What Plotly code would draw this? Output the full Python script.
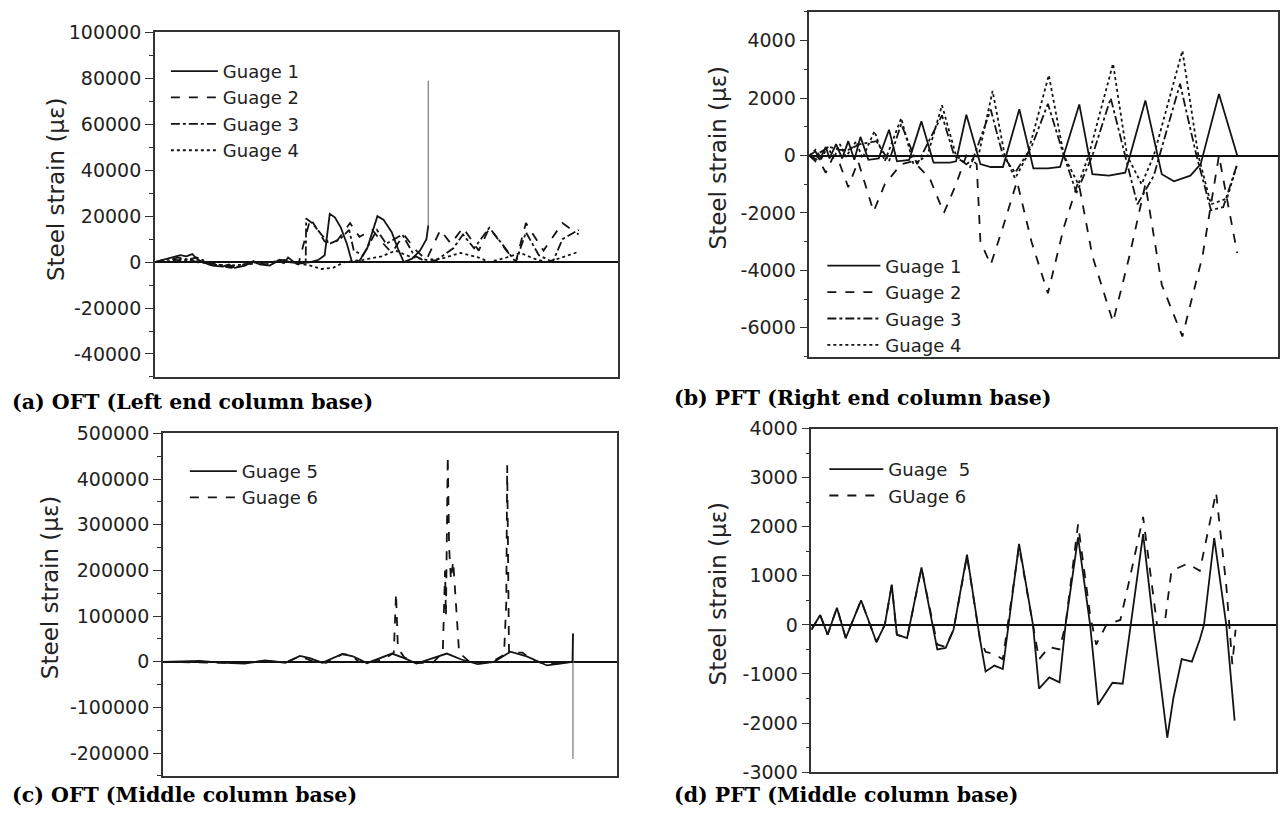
import plotly.graph_objects as go

W, H = 1280, 823

# ---------------- (a) OFT, left end column base ----------------
a_g1_t = [0, 1.9, 3.7, 5.5, 6.8, 8.1, 9.0, 10.3, 12.5, 14.7, 16.0, 17.3, 19.5, 21.3, 22.6, 24.8,
          26.6, 27.9, 28.8, 30.1, 31.8, 33.6, 35.4, 36.7, 37.8, 38.9, 40.2, 41.5, 42.6, 44.2, 45.9,
          47.0, 48.1, 49.4, 51.2, 52.5, 53.8, 55.6, 57.3, 58.7, 59.1, 59.1]
a_g1_v = [0, 1000, 2000, 3000, 2500, 3500, 1500, 0, -1500, -2000, -1000, -2500, -1500, 500, -1000, -1500,
          500, -500, 2000, 0, -500, 0, 1000, 3000, 21000, 19500, 15000, 8000, 0, 500, 6000,
          13000, 20000, 18500, 13000, 6000, 0, 1500, 5000, 10000, 16000, 79000]

a_g2_t = [0, 2.5, 5.0, 7.5, 10.0, 13.0, 16.5, 19.0, 22.0, 25.0, 28.0, 31.0, 33.6, 36.7, 38.9, 42.2,
          44.2, 47.0, 49.4, 51.2, 53.8, 56.5, 58.7, 61.7, 64.0, 66.6, 70.0, 72.3, 76.0, 78.0, 80.2,
          84.0, 88.1, 91.6]
a_g2_v = [0, 500, 2000, 1000, -500, -1500, -2500, -1000, -500, 0, 1000, -1000, 19000, 9000, 8000, 17000,
          11000, 14000, 8000, 4000, 12000, 5000, 1000, 14000, 8000, 15000, 5000, 15000, 5000, 0, 17000,
          5000, 17000, 12000]

a_g3_t = [0, 3.0, 6.0, 9.0, 12.0, 15.0, 18.0, 21.0, 24.0, 27.0, 30.0, 32.6, 32.7, 34.0, 36.0, 37.8,
          40.0, 42.0, 43.0, 45.0, 48.0, 50.0, 53.5, 56.0, 58.7, 61.0, 64.5, 66.6, 69.0, 72.3, 75.0,
          78.0, 80.2, 83.0, 86.0, 88.1, 91.6]
a_g3_v = [0, 1500, 500, 2000, -500, -1500, -2000, 0, -1000, 1000, -500, 0, 19000, 17000, 12000, 8000,
          10000, 14000, 5000, 3000, 14000, 8000, 12000, 3000, 0, 1000, 6000, 12000, 6000, 15000, 8000,
          0, 13000, 3000, 0, 10000, 14000]

a_g4_t = [0, 3.0, 6.0, 9.0, 12.0, 16.0, 20.0, 24.0, 28.0, 31.0, 33.6, 36.0, 38.5, 41.0, 45.0, 49.0,
          52.0, 55.0, 58.7, 62.0, 66.0, 70.0, 72.3, 76.0, 79.0, 82.0, 84.6, 88.0, 91.6]
a_g4_v = [0, 500, 1500, 500, -1000, -1500, -1000, 0, 500, -500, -1500, -3000, -2500, 0, 1000, 2500,
          5000, 2500, 1000, 1500, 4000, 2000, 0, 2000, 4000, 1500, 0, 2000, 4500]

# ---------------- (b) PFT, right end column base ----------------
b_g1_t = [0, 1.3, 2.2, 3.5, 4.3, 5.7, 7.0, 8.3, 9.6, 10.9, 12.6, 14.8, 17.0, 18.7, 21.3, 23.9, 26.5,
          30.0, 31.3, 33.5, 36.5, 38.7, 41.3, 44.8, 47.8, 50.9, 53.5, 57.6, 60.4, 63.9, 67.4, 71.7,
          75.2, 77.8, 81.3, 83.5, 87.4, 91.3]
b_g1_v = [0, 150, -150, 300, -100, 400, -100, 500, -150, 650, -150, -100, 900, -200, -150, 1190, -250,
          -250, -200, 1420, -300, -400, -400, 1610, -450, -450, -400, 1780, -650, -700, -600, 1920,
          -650, -900, -700, -300, 2140, 0]

b_g2_t = [0, 2.2, 3.5, 5.2, 6.5, 8.3, 10.4, 11.7, 13.7, 16.1, 19.6, 22.2, 25.7, 28.7, 31.3, 33.5, 35.7,
          36.5, 38.7, 41.3, 44.3, 47.4, 50.9, 54.3, 57.4, 60.4, 64.8, 68.3, 71.7, 75.2, 79.6, 83.9,
          87.4, 89.1, 91.3]
b_g2_v = [0, -200, -600, 0, -300, -1100, -200, -900, -1950, -1000, -300, -200, -800, -2000, -1000, 0, -300,
          -3000, -3800, -2500, -900, -3000, -4800, -2500, -900, -3500, -5800, -3500, -1000, -4500, -6300, -3500,
          0, -1500, -3400]

b_g3_t = [0, 1.3, 2.2, 4.3, 6.5, 8.3, 10.9, 14.3, 17.0, 19.6, 23.0, 28.3, 30.9, 34.3, 38.7, 41.3, 43.9,
          47.4, 50.9, 54.3, 57.0, 60.4, 64.3, 67.4, 70.0, 73.5, 79.1, 82.6, 85.7, 88.3, 91.3]
b_g3_v = [0, -200, 100, 300, 200, 200, 400, 500, -200, 1100, -300, 1400, 0, -400, 1600, 0, -600,
          300, 1800, 0, -1300, 0, 2000, 0, -1700, -700, 2500, 0, -1900, -1800, -300]

b_g4_t = [0, 1.3, 2.6, 3.9, 5.2, 6.5, 7.8, 10.0, 11.3, 13.9, 16.1, 19.6, 22.2, 25.2, 28.3, 31.3, 33.5,
          36.1, 39.1, 41.7, 43.9, 46.5, 51.1, 54.3, 57.4, 59.6, 64.8, 67.8, 70.9, 73.5, 79.6, 83.0,
          85.7, 89.1, 91.3]
b_g4_v = [0, 200, -100, 300, -100, 400, -50, 500, -100, 850, -200, 1300, -300, 0, 1750, 0, -300,
          0, 2250, 0, -800, 0, 2800, 0, -1000, 0, 3200, 0, -1000, 0, 3650, 0,
          -1700, -1500, -300]

# ---------------- (c) OFT, middle column base ----------------
c_g5_t = [0, 8.1, 12.6, 18.0, 22.5, 27.0, 30.2, 32.4, 35.1, 39.6, 41.9, 45.0, 50.5, 53.2, 55.9, 62.6,
          65.8, 69.4, 73.0, 76.6, 80.2, 84.7, 89.2, 90.3, 90.4, 90.4]
c_g5_v = [0, 2000, -2000, -4000, 3000, -2000, 13000, 8000, -2000, 17000, 12000, -3000, 18000, 8000, -4000, 18000,
          5000, -5000, 0, 22000, 12000, -8000, -2000, 0, 62000, -213000]

c_g6_t = [0, 9.0, 18.0, 22.5, 27.0, 30.2, 33.3, 36.0, 39.6, 41.4, 43.2, 45.0, 48.6, 50.9, 51.4, 51.8,
          53.2, 55.9, 59.5, 61.7, 62.2, 62.4, 62.8, 63.1, 63.5, 64.0, 64.4, 64.9, 65.3, 67.6, 72.1,
          75.2, 75.7, 75.9, 76.3, 79.3, 81.1, 84.7, 88.3, 90.4]
c_g6_v = [0, -1000, -3000, 2000, -2000, 12000, 0, -2000, 17000, 15000, 0, -3000, 5000, 20000, 150000, 30000,
          10000, -3000, -2000, 20000, 200000, 100000, 450000, 250000, 180000, 220000, 150000, 80000, 20000, 0, -2000,
          15000, 130000, 430000, 20000, 20000, 5000, -6000, -2000, 0]

# ---------------- (d) PFT, middle column base ----------------
d_g5_t = [0, 1.9, 3.5, 5.5, 7.4, 10.7, 14.0, 15.8, 17.3, 18.4, 20.6, 23.7, 27.1, 28.9, 30.6, 33.5, 36.3,
          37.5, 39.4, 41.2, 44.7, 47.7, 49.0, 51.2, 53.4, 54.7, 57.4, 60.0, 61.7, 64.8, 67.0, 68.7,
          71.4, 74.0, 76.6, 77.9, 79.7, 81.9, 83.6, 84.5, 86.7, 89.3, 91.1]
d_g5_v = [-100, 200, -200, 350, -270, 500, -350, 0, 820, -200, -270, 1170, -500, -470, -100, 1430, -300,
          -950, -830, -900, 1650, 0, -1300, -1070, -1170, 0, 1780, 0, -1630, -1180, -1200, 0,
          1850, -300, -2300, -1500, -700, -750, -300, 0, 1770, 0, -1950]

d_g6_t = [0, 1.9, 3.5, 5.5, 7.4, 10.7, 14.0, 15.8, 17.3, 18.4, 20.6, 23.7, 27.1, 28.9, 30.6, 33.5, 36.3,
          37.5, 39.4, 41.2, 44.7, 47.7, 49.0, 51.2, 53.4, 54.7, 57.4, 60.0, 61.3, 63.5, 66.5, 68.3,
          71.4, 74.4, 76.0, 77.5, 81.0, 83.6, 87.1, 89.3, 90.6, 91.3]
d_g6_v = [-100, 200, -200, 350, -270, 500, -350, 0, 800, -200, -270, 1150, -400, -450, -100, 1400, -300,
          -550, -600, -700, 1600, 0, -700, -450, -500, 0, 2050, 200, -400, 0, 100, 850,
          2200, 0, 0, 1100, 1250, 1100, 2700, 800, -800, -100]

# y-axis ticks of each panel
a_ticks = [-40000, -20000, 0, 20000, 40000, 60000, 80000, 100000]
b_ticks = [-6000, -4000, -2000, 0, 2000, 4000]
c_ticks = [-200000, -100000, 0, 100000, 200000, 300000, 400000, 500000]
d_ticks = [-3000, -2000, -1000, 0, 1000, 2000, 3000, 4000]

INK = "#141414"
GREY = "#8c8c8c"
LW = 1.8

fig = go.Figure()


def add(t, v, name, dash, ax, leg, color=INK, show=True, width=LW):
    fig.add_trace(go.Scatter(
        x=t, y=v, mode="lines", name=name, showlegend=show, legend=leg,
        line=dict(color=color, width=width, dash=dash),
        xaxis="x" + ax, yaxis="y" + ax, hoverinfo="skip"))


# (a)
add(a_g1_t[-2:], a_g1_v[-2:], "Guage 1", "solid", "", "legend", color=GREY, show=False, width=1.4)
add(a_g1_t[:-1], a_g1_v[:-1], "Guage 1", "solid", "", "legend")
add(a_g2_t, a_g2_v, "Guage 2", "dash", "", "legend")
add(a_g3_t, a_g3_v, "Guage 3", "dashdot", "", "legend")
add(a_g4_t, a_g4_v, "Guage 4", "dot", "", "legend")
# (b)
add(b_g1_t, b_g1_v, "Guage 1", "solid", "2", "legend2")
add(b_g2_t, b_g2_v, "Guage 2", "dash", "2", "legend2")
add(b_g3_t, b_g3_v, "Guage 3", "dashdot", "2", "legend2")
add(b_g4_t, b_g4_v, "Guage 4", "dot", "2", "legend2")
# (c)
add(c_g5_t[-2:], c_g5_v[-2:], "Guage 5", "solid", "3", "legend3", color=GREY, show=False, width=1.4)
add(c_g5_t[:-1], c_g5_v[:-1], "Guage 5", "solid", "3", "legend3")
add(c_g6_t, c_g6_v, "Guage 6", "dash", "3", "legend3")
# (d)
add(d_g5_t, d_g5_v, "Guage  5", "solid", "4", "legend4")
add(d_g6_t, d_g6_v, "GUage 6", "dash", "4", "legend4")

# plot boxes in pixels: left, right, top, bottom
BOX = {
    "": (155, 618, 22, 376),
    "2": (810, 1279, 1, 355),
    "3": (163, 617, 434, 786),
    "4": (812, 1277, 429, 782),
}
YSET = {
    "": ([-50000, 100000], a_ticks, 10000),
    "2": ([-7000, 5000], b_ticks, 1000),
    "3": ([-250000, 500000], c_ticks, 50000),
    "4": ([-3000, 4000], d_ticks, 500),
}

AXC = "#333333"
TICKFONT = dict(family="DejaVu Sans", size=19, color="#222222")

layout = dict(
    width=W, height=H, margin=dict(l=0, r=0, t=0, b=0),
    paper_bgcolor="white", plot_bgcolor="white", showlegend=True,
)
for k, (x0, x1, y0, y1) in BOX.items():
    rng, ticks, minor = YSET[k]
    layout["xaxis" + k] = dict(
        domain=[x0 / W, x1 / W], range=[0, 100], anchor="y" + k,
        showline=True, mirror=True, linecolor=AXC, linewidth=1.6,
        ticks="", showticklabels=False, showgrid=False, zeroline=False)
    layout["yaxis" + k] = dict(
        domain=[1 - y1 / H, 1 - y0 / H], range=rng, anchor="x" + k,
        tickmode="array", tickvals=ticks, ticktext=[str(v) for v in ticks],
        ticks="outside", ticklen=8, tickwidth=1.4, tickcolor=AXC,
        minor=dict(ticks="outside", ticklen=4, tickwidth=1.2, tickcolor=AXC,
                   tickmode="linear", tick0=0, dtick=minor, showgrid=False),
        showline=True, mirror=True, linecolor=AXC, linewidth=1.6,
        showgrid=False, zeroline=True, zerolinecolor="#111111", zerolinewidth=1.6,
        tickfont=TICKFONT)

LEGFONT = dict(family="DejaVu Sans", size=18, color="#222222")


def leg(px, py, iw):
    return dict(x=px / W, y=1 - py / H, xanchor="left", yanchor="top",
                bgcolor="rgba(0,0,0,0)", font=LEGFONT, itemwidth=iw,
                tracegroupgap=0, traceorder="normal")


layout["legend"] = leg(166, 43, 47)
layout["legend2"] = leg(823, 243, 53)
layout["legend3"] = leg(185, 454, 47)
layout["legend4"] = leg(825, 452, 54)

fig.update_layout(**layout)

# panel captions
CAPS = [
    ("(a) OFT (Left end column base)", 10, 402),
    ("(b) PFT (Right end column base)", 673, 398),
    ("(c) OFT (Middle column base)", 10, 806),
    ("(d) PFT (Middle column base)", 673, 806),
]
for text, px, py in CAPS:
    fig.add_annotation(text="<b>" + text + "</b>", xref="paper", yref="paper",
                       x=px / W, y=1 - py / H, xanchor="left", yanchor="middle",
                       showarrow=False,
                       font=dict(family="DejaVu Serif", size=20.5, color="black"))

# y-axis titles
for px, py in [(56, 183), (719, 151), (50, 592), (719, 599)]:
    fig.add_annotation(text="Steel strain (\u03bc\u03b5)", xref="paper", yref="paper",
                       x=px / W, y=1 - py / H, xanchor="center", yanchor="middle",
                       textangle=-90, showarrow=False,
                       font=dict(family="DejaVu Sans", size=23, color="#222222"))

fig.write_html("out.html")
